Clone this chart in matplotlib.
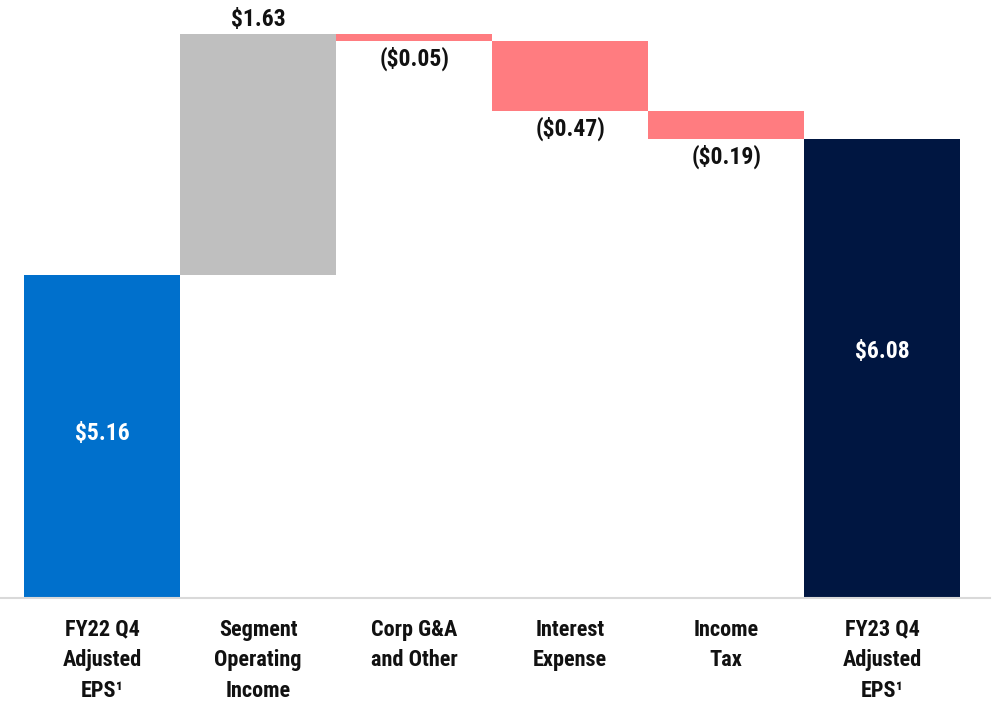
import matplotlib
matplotlib.use("Agg")
import matplotlib.pyplot as plt
from matplotlib import font_manager

categories = ["FY22 Q4\nAdjusted\nEPS\u00b9", "Segment\nOperating\nIncome", "Corp G&A\nand Other",
              "Interest\nExpense", "Income\nTax", "FY23 Q4\nAdjusted\nEPS\u00b9"]
start_value = 5.16
changes = [1.63, -0.05, -0.47, -0.19]
end_value = 6.08
labels = ["$5.16", "$1.63", "($0.05)", "($0.47)", "($0.19)", "$6.08"]

names = {f.name for f in font_manager.fontManager.ttflist}
fam = ["Roboto Condensed", "Liberation Sans", "DejaVu Sans"]
fam = [f for f in fam if f in names] or ["DejaVu Sans"]
plt.rcParams['font.family'] = fam

c_blue = "#0070CC"
c_gray = "#BFBFBF"
c_neg = "#FF7C80"
c_navy = "#001641"
c_text = "#111111"

fig = plt.figure(figsize=(9.96, 7.03), dpi=100)
ax = fig.add_axes([0, 0.1494, 990/996, 0.8506])
y0 = 2.975
ax.set_ylim(y0, 7.02)
ax.set_xlim(-0.654, 5.69)

val_fs = 17

# start bar
ax.bar(0, start_value - y0, bottom=y0, width=1.0, color=c_blue)
ax.text(0, (start_value + y0) / 2 + 0.02, labels[0], ha='center', va='center', color='white',
        fontsize=val_fs, fontweight='bold')

running = start_value
for i, ch in enumerate(changes, start=1):
    if ch >= 0:
        ax.bar(i, ch, bottom=running, width=1.0, color=c_gray)
        ax.annotate(labels[i], (i, running + ch), xytext=(0, 2), textcoords='offset points',
                    ha='center', va='bottom', fontsize=val_fs, fontweight='bold', color=c_text)
    else:
        ax.bar(i, ch, bottom=running, width=1.0, color=c_neg)
        ax.annotate(labels[i], (i, running + ch), xytext=(0, -4), textcoords='offset points',
                    ha='center', va='top', fontsize=val_fs, fontweight='bold', color=c_text)
    running += ch

ax.bar(5, end_value - y0, bottom=y0, width=1.0, color=c_navy)
ax.text(5, 4.64, labels[5], ha='center', va='center', color='white',
        fontsize=val_fs, fontweight='bold')

for s in ['top', 'right', 'left']:
    ax.spines[s].set_visible(False)
ax.spines['bottom'].set_color('#D9D9D9')
ax.spines['bottom'].set_linewidth(1.5)
ax.set_yticks([])
ax.set_xticks(range(6))
ax.set_xticklabels(categories, fontsize=16, fontweight='bold', color=c_text, linespacing=1.5)
ax.tick_params(axis='x', length=0, pad=15)

fig.savefig("out.png", dpi=100)
